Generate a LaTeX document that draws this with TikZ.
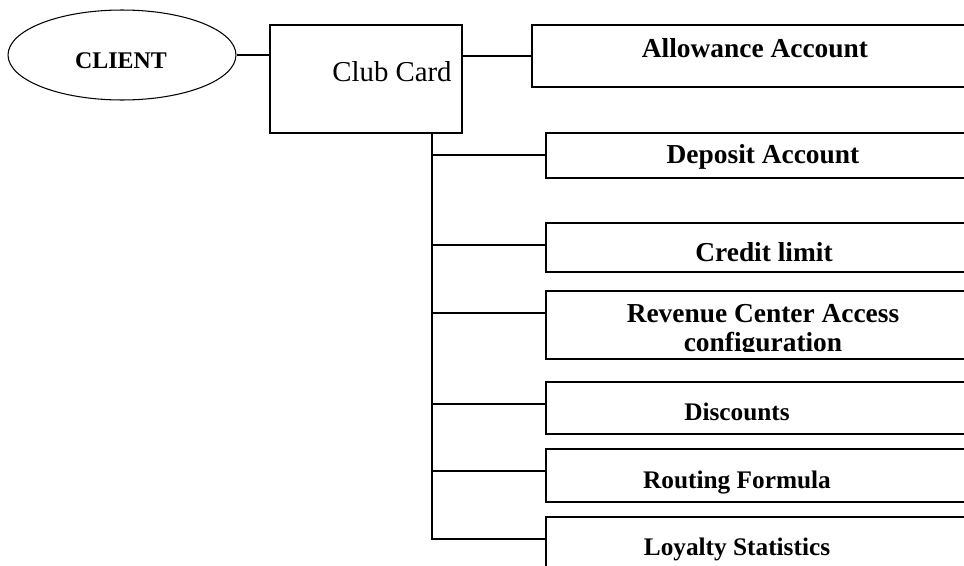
\documentclass[tikz,border=0pt]{standalone}
\usepackage{fontspec}
\setmainfont{Liberation Serif}
\usetikzlibrary{shapes.geometric,calc}

\begin{document}
\begin{tikzpicture}[x=0.02cm, y=-0.02cm, line width=1.1pt,
  box/.style={draw, line width=1.1pt, rectangle, inner sep=0pt, outer sep=0pt, anchor=north west},
  big/.style={font=\bfseries\fontsize{15.6}{18}\selectfont, anchor=base},
  small/.style={font=\bfseries\fontsize{14.4}{17}\selectfont, anchor=base}]
\useasboundingbox (0,0) rectangle (964,565);
\clip (0,0) rectangle (964,565);
% client and card
\node [draw, ellipse, line width=0.6pt, minimum width=4.56cm, minimum height=1.8cm, inner sep=0pt] (client) at (122,55) {};
\node [font=\bfseries\fontsize{13.6}{16}\selectfont, anchor=base] (clienttxt) at (121,68) {CLIENT};
\node [box, minimum width=3.84cm, minimum height=2.16cm] (card) at (270,25) {};
\node [font=\fontsize{16.4}{19}\selectfont, anchor=base] (cardtxt) at (392,81) {Club Card};
% account boxes
\node [box, minimum width=9.16cm, minimum height=1.24cm] (allow) at (532,25) {};
\node [box, minimum width=8.88cm, minimum height=0.9cm] (dep) at (546,133) {};
\node [box, minimum width=8.88cm, minimum height=0.98cm] (cred) at (546,223) {};
\node [box, minimum width=8.88cm, minimum height=1.36cm] (rev) at (546,291) {};
\node [box, minimum width=8.88cm, minimum height=1.04cm] (disc) at (546,382) {};
\node [box, minimum width=8.88cm, minimum height=1.06cm] (rout) at (546,449) {};
\node [box, minimum width=8.88cm, minimum height=1.2cm] (loy) at (546,517) {};
\node [big] (allowtxt) at (755,57) {Allowance Account};
\node [big] (deptxt) at (763,163) {Deposit Account};
\node [big] (credtxt) at (764,261) {Credit limit};
\node [big] (revtxt) at (763,322) {Revenue Center Access};
\begin{scope}
\clip (546,291) rectangle (990,351.5);
\node [big] (revtxtb) at (763,351) {configuration};
\end{scope}
\node [small] (disctxt) at (737,420) {Discounts};
\node [small] (routtxt) at (737,488) {Routing Formula};
\node [small] (loytxt) at (737,555) {Loyalty Statistics};
% connectors
\draw (client.east) -- (client.east -| card.west);
\draw (allow.west) -- (allow.west -| card.east);
\coordinate (tr) at ($(card.south west)+(162,0)$);
\foreach \b in {dep,cred,rev,disc,rout,loy}
  \draw (tr) |- ($(\b.north west)+(0,22)$);
\end{tikzpicture}
\end{document}
